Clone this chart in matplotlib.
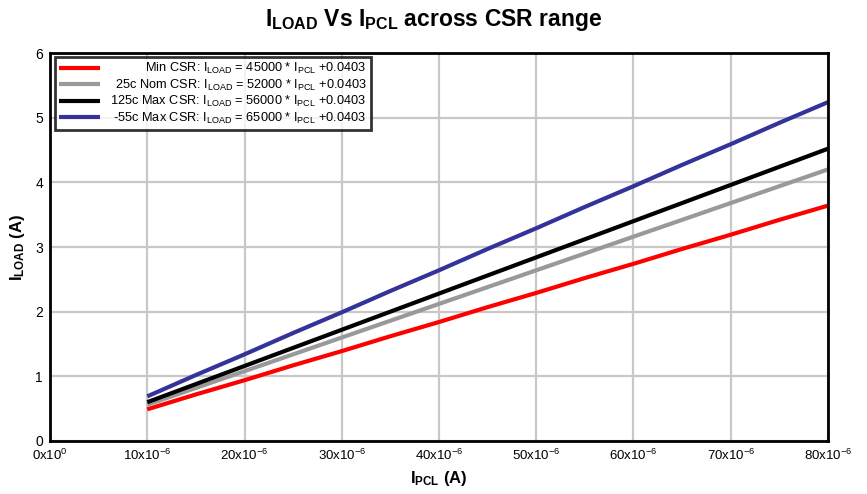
"""
 ILOAD vs IPCL across CSR range
"""
import matplotlib
matplotlib.use('Agg')
import matplotlib.pyplot as plt
import matplotlib.transforms as mtransforms
from matplotlib import font_manager

# data
ipcl = [10e-6, 15e-6, 20e-6, 25e-6, 30e-6, 35e-6, 40e-6, 45e-6,
        50e-6, 55e-6, 60e-6, 65e-6, 70e-6, 75e-6, 80e-6]
iload_min = [0.49, 0.72, 0.94, 1.17, 1.39, 1.62, 1.84, 2.07,
             2.29, 2.52, 2.74, 2.97, 3.19, 3.42, 3.64]
iload_nom = [0.56, 0.82, 1.08, 1.34, 1.60, 1.86, 2.12, 2.38,
             2.64, 2.90, 3.16, 3.42, 3.68, 3.94, 4.20]
iload_125 = [0.60, 0.88, 1.16, 1.44, 1.72, 2.00, 2.28, 2.56,
             2.84, 3.12, 3.40, 3.68, 3.96, 4.24, 4.52]
iload_m55 = [0.69, 1.02, 1.34, 1.67, 1.99, 2.32, 2.64, 2.97,
             3.29, 3.62, 3.94, 4.27, 4.59, 4.92, 5.24]
labels = [r'Min CSR: I$_{LOAD}$ = 45000 * I$_{PCL}$ +0.0403',
          r'25c Nom CSR: I$_{LOAD}$ = 52000 * I$_{PCL}$ +0.0403',
          r'125c Max CSR: I$_{LOAD}$ = 56000 * I$_{PCL}$ +0.0403',
          r'-55c Max CSR: I$_{LOAD}$ = 65000 * I$_{PCL}$ +0.0403']
colors = ['#ff0000', '#999999', '#000000', '#333399']
xticks = [0, 10e-6, 20e-6, 30e-6, 40e-6, 50e-6, 60e-6, 70e-6, 80e-6]
xticklabels = ['0x10$^{0}$'] + ['%dx10$^{-6}$' % v for v in range(10, 90, 10)]
yticks = [0, 1, 2, 3, 4, 5, 6]

names = {f.name for f in font_manager.fontManager.ttflist}
fam = 'Liberation Sans Narrow' if 'Liberation Sans Narrow' in names else 'Liberation Sans'
plt.rcParams['font.family'] = [fam, 'DejaVu Sans']
plt.rcParams['mathtext.default'] = 'regular'

fig = plt.figure(figsize=(8.67, 4.94), dpi=100)
ax = fig.add_axes([0.0577, 0.1073, 0.8973, 0.7854])

series = [iload_min, iload_nom, iload_125, iload_m55]
for s, c, lb in zip(series, colors, labels):
    ax.plot(ipcl, s, color=c, lw=3, label=lb, solid_capstyle='butt')

ax.set_xlim(0, 80e-6)
ax.set_ylim(0, 6)
ax.set_xticks(xticks)
ax.set_xticklabels(xticklabels, fontsize=9.5)
ax.set_yticks(yticks)
ax.set_yticklabels([str(v) for v in yticks], fontsize=10)
ax.tick_params(length=0, pad=5)
ax.grid(color='#c8c8c8', lw=1.6)
ax.set_axisbelow(True)
for sp in ax.spines.values():
    sp.set_linewidth(2)
    sp.set_color('black')

ax.set_xlabel(r'I$_{PCL}$ (A)', fontsize=12, fontweight='bold', labelpad=4)
ax.set_ylabel(r'I$_{LOAD}$ (A)', fontsize=12, fontweight='bold', labelpad=6)
fig.suptitle(r'I$_{LOAD}$ Vs I$_{PCL}$ across CSR range', fontsize=16.5,
             fontweight='bold', y=0.985)

leg = ax.legend(loc='upper left', bbox_to_anchor=(0.006, 0.99), fontsize=9.2,
                frameon=True, fancybox=False, edgecolor='black',
                handlelength=3.2, handletextpad=0.8, labelspacing=0.1,
                borderpad=0.35, borderaxespad=0)
leg.get_frame().set_linewidth(2)
leg.set_zorder(5)

# right-align legend texts
fig.canvas.draw()
xr = max(t.get_window_extent().x1 for t in leg.texts)
for t in leg.texts:
    yb = t.get_transform().transform(t.get_position())[1]
    t.set_visible(False)
    fig.text(xr, yb, t.get_text(), ha='right', va='baseline', fontsize=9.2,
             transform=mtransforms.IdentityTransform(), zorder=10)

fig.savefig('out.png', dpi=100)
